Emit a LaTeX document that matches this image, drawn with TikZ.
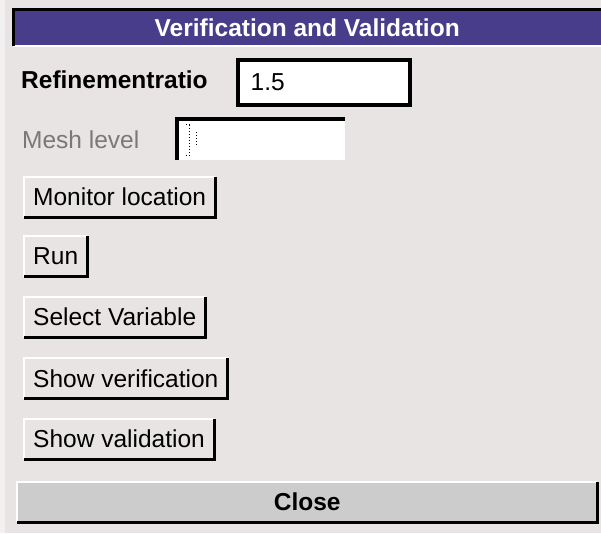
\documentclass[tikz,border=0pt]{standalone}
\usepackage{fontspec}
\setmainfont{Liberation Sans}
\usetikzlibrary{positioning}

\definecolor{panelbg}{HTML}{E8E4E4}
\definecolor{titlebg}{HTML}{483D8B}
\definecolor{closebg}{HTML}{CCCCCC}
\definecolor{greytext}{HTML}{7A7878}

\begin{document}
\begin{tikzpicture}[
            x=1pt, y=-1pt,
            every node/.style={font=\fontsize{24.5}{28}\selectfont, inner sep=0pt},
            button/.style={fill=panelbg, anchor=north west, minimum height=40pt, inner xsep=9pt},
            entry/.style={fill=white, anchor=north west},
            fieldlabel/.style={anchor=west, font=\fontsize{24.5}{28}\selectfont\bfseries},
        ]
            % panel
            \fill[panelbg] (0,0) rectangle (601,533);
            \fill[white!45!panelbg] (0,0) rectangle (5,533);
            \useasboundingbox (0,0) rectangle (601,533);

            % title bar
            \node[fill=titlebg, anchor=north west, minimum width=588pt, minimum height=37pt,
                  text=white, font=\fontsize{24.5}{28}\selectfont\bfseries] (titlebar) at (13,9) {Verification and Validation};
            \draw[white, line width=2pt] (titlebar.south west) -- (titlebar.south east);
            \draw[black, line width=3pt] (titlebar.south west) -- (titlebar.north west) -- (titlebar.north east);

            % refinement ratio
            \node[fieldlabel] (ratiolabel) at (21,80) {Refinementratio};
            \node[entry, draw=black, line width=4.5pt, minimum width=172pt, minimum height=45pt] (ratio) at (235.5,57.5) {};
            \node[right=15pt of ratio.west] (ratiotext) {1.5};

            % mesh level (disabled)
            \node[anchor=west, text=greytext] (meshlabel) at (22,140) {Mesh level};
            \node[entry, minimum width=168pt, minimum height=41pt] (mesh) at (177,119) {};
            \draw[black, line width=3.5pt] (mesh.south west) -- (mesh.north west) -- (mesh.north east);
            \draw[black, dotted, line width=1pt] ([xshift=12pt,yshift=-6pt]mesh.north west) -- ([xshift=12pt,yshift=6pt]mesh.south west);
            \draw[black, dotted, line width=1pt] ([xshift=9pt,yshift=-5pt]mesh.north west) -- ([xshift=15pt,yshift=-5pt]mesh.north west);
            \draw[black, dotted, line width=1pt] ([xshift=9pt,yshift=5pt]mesh.south west) -- ([xshift=15pt,yshift=5pt]mesh.south west);
            \draw[black, dotted, line width=1pt] ([xshift=19pt,yshift=-13pt]mesh.north west) -- ([xshift=19pt,yshift=-26pt]mesh.north west);

            % buttons
            \node[button] (monitor) at (24,177) {Monitor location};
            \node[button, below=19pt of monitor.south west, anchor=north west] (run) {Run};
            \node[button, below=20pt of run.south west, anchor=north west] (select) {Select Variable};
            \node[button, below=21pt of select.south west, anchor=north west] (showver) {Show verification};
            \node[button, below=20pt of showver.south west, anchor=north west] (showval) {Show validation};
            \foreach \b in {monitor,run,select,showver,showval} {
                \draw[white, line width=2pt] (\b.south west) -- (\b.north west) -- (\b.north east);
                \draw[black, line width=3pt] (\b.south west) -- (\b.south east) -- (\b.north east);
            }

            % close
            \node[button, fill=closebg, minimum width=580pt, font=\fontsize{24.5}{28}\selectfont\bfseries] (close) at (17,482) {Close};
            \draw[white, line width=2pt] (close.south west) -- (close.north west) -- (close.north east);
            \draw[black, line width=3pt] (close.south west) -- (close.south east) -- (close.north east);
        \end{tikzpicture}
\end{document}
